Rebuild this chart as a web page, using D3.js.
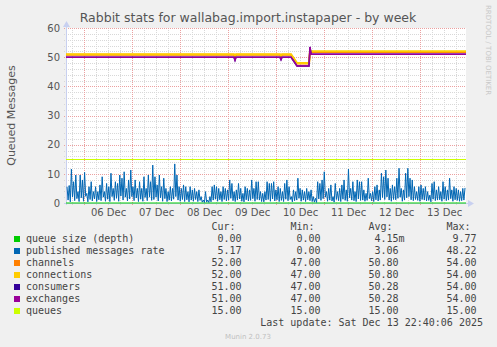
<!DOCTYPE html>
<html>
<head>
<meta charset="utf-8">
<script src="https://cdn.jsdelivr.net/npm/d3@7"></script>
<style>
  body { margin: 0; background: #f0f0f0; }
  svg { display: block; }
</style>
</head>
<body>
<script>
// ---- data ----
const startTime = "2025-12-05 15:00";
const endTime = "2025-12-13 23:00";
const yTicks = [0, 10, 20, 30, 40, 50, 60];
const dayLabels = ["2025-12-06 12:00", "2025-12-07 12:00", "2025-12-08 12:00", "2025-12-09 12:00",
                   "2025-12-10 12:00", "2025-12-11 12:00", "2025-12-12 12:00", "2025-12-13 12:00"];

// published messages rate, evenly sampled from 05 Dec 15:30 to 13 Dec 22:30
const published = [
  5.6,1.0, 6.0,0.4, 11.6,2.1, 7.3,0.8, 9.6,1.5, 3.9,0.5, 9.6,1.8, 7.9,0.6, 10.5,2.3, 3.3,0.4,
  5.6,1.2, 7.3,0.7, 3.9,1.4, 5.6,0.5, 3.9,1.1, 6.2,0.8, 9.0,2.0, 3.9,0.6, 6.7,1.3, 5.6,0.5,
  10.2,2.2, 5.0,0.9, 7.3,1.6, 6.7,0.6, 9.6,2.4, 8.5,1.0, 10.7,2.0, 5.0,0.7, 7.9,1.4, 11.3,2.2,
  5.6,0.8, 7.9,1.7, 5.0,0.5, 7.3,1.3, 5.0,0.6, 9.0,1.9, 5.0,0.8, 9.6,2.0, 7.3,0.9,
  13.0,1.2, 9.0,2.0, 6.2,0.7, 9.6,1.8, 5.6,0.6, 8.5,1.5, 5.0,0.5, 3.9,1.0, 5.6,0.7, 5.0,1.3,
  13.4,2.2, 9.6,1.0, 5.6,0.6, 5.0,1.2, 6.2,0.5, 5.6,1.1, 3.9,0.4, 5.6,1.0, 4.5,0.6, 5.0,1.2,
  3.9,0.5, 4.5,0.9, 2.2,0.3, 1.0,0.2, 3.9,0.3, 1.0,0.2, 2.2,0.4, 5.6,1.0, 6.2,1.3, 5.6,0.6,
  5.0,1.1, 3.9,0.5, 5.6,1.2, 5.0,0.7, 4.5,1.0, 7.9,1.6, 6.7,0.8, 3.9,0.5, 4.5,1.0, 6.7,1.4,
  5.0,0.6, 3.3,0.4, 5.6,1.1, 5.0,0.7, 4.5,0.9, 7.9,1.5, 5.0,0.6, 7.3,1.2,
  7.3,1.0, 3.9,0.5, 3.3,0.4, 3.9,1.0, 7.3,1.2, 6.7,0.6, 6.7,1.4, 7.3,0.7, 4.5,1.1, 5.6,0.5,
  5.0,0.9, 3.9,0.5, 6.7,1.3, 7.9,0.8, 5.6,1.2, 2.2,0.4, 4.5,0.8, 3.9,1.0, 8.5,1.6, 5.0,0.6,
  4.5,1.0, 3.9,0.5, 5.0,1.1, 3.9,0.8, 4.5,0.5, 2.2,0.3, 1.6,0.2, 7.3,1.4, 6.7,0.9, 7.9,1.5,
  10.7,2.0, 3.9,0.6, 5.0,1.0, 6.2,0.7, 2.2,0.3, 6.7,1.2, 3.9,0.8, 5.0,0.5, 6.2,1.3, 7.9,0.9,
  4.5,0.6, 11.6,1.8, 5.0,1.0, 7.3,0.8, 3.9,0.5, 7.9,1.4, 7.3,0.9,
  7.3,1.0, 4.5,0.6, 3.3,0.9, 8.5,1.5, 3.3,0.8, 3.9,0.5, 5.6,1.1, 6.2,0.7, 4.5,1.0, 10.2,1.9,
  9.0,1.2, 11.3,2.1, 8.5,1.0, 5.0,0.6, 6.2,1.2, 5.6,1.1, 8.5,1.6, 11.9,2.0, 5.0,0.6, 4.5,1.0,
  10.2,1.8, 11.9,2.2, 8.5,1.1, 7.9,0.8, 5.6,1.2, 3.9,0.9, 5.6,0.6, 6.2,1.2, 5.0,1.0, 5.6,0.7,
  3.9,0.9, 2.7,0.4, 6.7,1.3, 7.3,0.8, 4.5,1.0, 5.6,1.1, 3.9,0.6, 7.3,1.3, 5.6,0.8, 4.5,1.0,
  8.5,1.5, 4.5,0.6, 5.6,1.1, 5.0,0.9, 4.5,0.6, 3.9,0.8, 5.0,1.0, 5.17
];

// channels / connections (identical), time + value
const channels = [
  ["2025-12-05 15:00", 51], ["2025-12-09 03:00", 51], ["2025-12-09 03:30", 50.5], ["2025-12-09 04:00", 51],
  ["2025-12-10 02:00", 51], ["2025-12-10 02:30", 50.5], ["2025-12-10 03:00", 51], ["2025-12-10 07:30", 51],
  ["2025-12-10 09:00", 49.5], ["2025-12-10 10:30", 48], ["2025-12-10 16:30", 48], ["2025-12-10 17:00", 52],
  ["2025-12-13 23:00", 52]
];
const connections = channels;

// consumers / exchanges (identical)
const consumers = [
  ["2025-12-05 15:00", 50], ["2025-12-09 03:00", 50], ["2025-12-09 03:30", 49], ["2025-12-09 04:00", 50],
  ["2025-12-10 02:00", 50], ["2025-12-10 02:30", 49.2], ["2025-12-10 03:00", 50], ["2025-12-10 07:30", 50],
  ["2025-12-10 09:00", 48.5], ["2025-12-10 10:30", 47], ["2025-12-10 16:30", 47], ["2025-12-10 17:00", 53.5],
  ["2025-12-10 17:30", 51], ["2025-12-13 23:00", 51]
];
const exchanges = consumers;

const queueSize = [["2025-12-05 15:00", 0], ["2025-12-13 23:00", 0]];
const queues = [["2025-12-05 15:00", 15], ["2025-12-13 23:00", 15]];

// legend
const legendNames = ["queue size (depth)", "published messages rate", "channels", "connections",
                     "consumers", "exchanges", "queues"];
const legendColors = ["#00cc00", "#0066b3", "#ff8000", "#ffcc00", "#330099", "#990099", "#ccff00"];
const curVals = ["0.00", "5.17", "52.00", "52.00", "51.00", "51.00", "15.00"];
const minVals = ["0.00", "0.00", "47.00", "47.00", "47.00", "47.00", "15.00"];
const avgVals = ["4.15m", "3.06", "50.80", "50.80", "50.28", "50.28", "15.00"];
const maxVals = ["9.77", "48.22", "54.00", "54.00", "54.00", "54.00", "15.00"];

// ---- chart ----
const parse = d3.timeParse("%Y-%m-%d %H:%M");
const W = 497, H = 347;
const plot = { left: 66, right: 466, top: 28, bottom: 203 };

const svg = d3.select("body").append("svg")
    .attr("width", W)
    .attr("height", H);

svg.append("rect").attr("width", W).attr("height", H).attr("fill", "#f0f0f0");

const x = d3.scaleTime()
    .domain([parse(startTime), parse(endTime)])
    .range([plot.left, plot.right]);

const y = d3.scaleLinear()
    .domain([0, 60])
    .range([plot.bottom, plot.top]);

// plot background
svg.append("rect")
    .attr("x", plot.left).attr("y", plot.top)
    .attr("width", plot.right - plot.left).attr("height", plot.bottom - plot.top)
    .attr("fill", "#ffffff");

// minor grid
const grid = svg.append("g").attr("shape-rendering", "crispEdges");
grid.selectAll(".hmin")
    .data(d3.range(2, 60, 2).filter(v => v % 10 !== 0))
    .join("line")
    .attr("x1", plot.left - 2).attr("x2", plot.right)
    .attr("y1", d => Math.round(y(d)) + 0.5).attr("y2", d => Math.round(y(d)) + 0.5)
    .attr("stroke", "#d8d8d8").attr("stroke-dasharray", "1,1");
grid.selectAll(".vmin")
    .data(d3.timeHour.every(6).range(x.domain()[0], x.domain()[1]).filter(d => d.getHours() !== 0))
    .join("line")
    .attr("x1", d => Math.round(x(d)) + 0.5).attr("x2", d => Math.round(x(d)) + 0.5)
    .attr("y1", plot.top).attr("y2", plot.bottom + 2)
    .attr("stroke", "#d8d8d8").attr("stroke-dasharray", "1,1");

// major grid
grid.selectAll(".hmaj")
    .data(yTicks.filter(v => v > 0))
    .join("line")
    .attr("x1", plot.left - 2).attr("x2", plot.right)
    .attr("y1", d => Math.round(y(d)) + 0.5).attr("y2", d => Math.round(y(d)) + 0.5)
    .attr("stroke", "#eba0a0").attr("stroke-dasharray", "1,1");
grid.selectAll(".vmaj")
    .data(d3.timeDay.range(x.domain()[0], x.domain()[1]))
    .join("line")
    .attr("x1", d => Math.round(x(d)) + 0.5).attr("x2", d => Math.round(x(d)) + 0.5)
    .attr("y1", plot.top).attr("y2", plot.bottom + 2)
    .attr("stroke", "#eba0a0").attr("stroke-dasharray", "1,1");

// axes lines with arrows
const axisColor = "#c8d0f0";
svg.append("line")
    .attr("x1", plot.left + 0.5).attr("x2", plot.left + 0.5)
    .attr("y1", plot.bottom + 2).attr("y2", plot.top - 5)
    .attr("stroke", axisColor);
svg.append("path")
    .attr("d", `M${plot.left - 3},${plot.top - 1}L${plot.left + 0.5},${plot.top - 7}L${plot.left + 4},${plot.top - 1}Z`)
    .attr("fill", axisColor);
svg.append("line")
    .attr("x1", plot.left - 2).attr("x2", plot.right + 5)
    .attr("y1", plot.bottom + 0.5).attr("y2", plot.bottom + 0.5)
    .attr("stroke", axisColor);
svg.append("path")
    .attr("d", `M${plot.right + 2},${plot.bottom - 3}L${plot.right + 8},${plot.bottom + 0.5}L${plot.right + 2},${plot.bottom + 4}Z`)
    .attr("fill", axisColor);

// tick labels
const yAxis = svg.append("g")
    .attr("transform", `translate(${plot.left},0)`)
    .call(d3.axisLeft(y).tickValues(yTicks).tickSize(0).tickPadding(6));
yAxis.select(".domain").remove();
yAxis.selectAll("text")
    .attr("font-family", "DejaVu Sans").attr("font-size", 10).attr("fill", "#555");

const xAxis = svg.append("g")
    .attr("transform", `translate(0,${plot.bottom})`)
    .call(d3.axisBottom(x).tickValues(dayLabels.map(parse)).tickFormat(d3.timeFormat("%d %b"))
        .tickSize(0).tickPadding(6));
xAxis.select(".domain").remove();
xAxis.selectAll("text")
    .attr("font-family", "DejaVu Sans").attr("font-size", 10).attr("fill", "#555");

// series
const t0 = parse("2025-12-05 15:30"), t1 = parse("2025-12-13 22:30");
const pubTimes = published.map((v, i) => new Date(+t0 + (t1 - t0) * i / (published.length - 1)));

const line = d3.line()
    .x(d => x(d[0]))
    .y(d => y(d[1]));

const stepData = arr => arr.map(d => [parse(d[0]), d[1]]);

svg.append("path")
    .datum(stepData(queueSize))
    .attr("fill", "none").attr("stroke", "#00cc00").attr("stroke-width", 1.2)
    .attr("d", line);

svg.append("path")
    .datum(published.map((v, i) => [pubTimes[i], v]))
    .attr("fill", "none").attr("stroke", "#0066b3").attr("stroke-width", 1)
    .attr("d", line);

svg.append("path")
    .datum(stepData(channels))
    .attr("fill", "none").attr("stroke", "#ff8000").attr("stroke-width", 2)
    .attr("transform", "translate(0,0.6)")
    .attr("d", line);
svg.append("path")
    .datum(stepData(connections))
    .attr("fill", "none").attr("stroke", "#ffcc00").attr("stroke-width", 2)
    .attr("d", line);

svg.append("path")
    .datum(stepData(consumers))
    .attr("fill", "none").attr("stroke", "#330099").attr("stroke-width", 1.5)
    .attr("d", line);
svg.append("path")
    .datum(stepData(exchanges))
    .attr("fill", "none").attr("stroke", "#990099").attr("stroke-width", 1.5)
    .attr("d", line);

svg.append("path")
    .datum(stepData(queues))
    .attr("fill", "none").attr("stroke", "#ccff00").attr("stroke-width", 1)
    .attr("shape-rendering", "crispEdges")
    .attr("d", line);

// title and side texts
svg.append("text")
    .attr("x", 248).attr("y", 22)
    .attr("text-anchor", "middle")
    .attr("font-family", "DejaVu Sans").attr("font-size", 12.5).attr("fill", "#555")
    .text("Rabbit stats for wallabag.import.instapaper - by week");

svg.append("text")
    .attr("transform", `translate(15,${(plot.top + plot.bottom) / 2}) rotate(-90)`)
    .attr("text-anchor", "middle")
    .attr("font-family", "DejaVu Sans").attr("font-size", 11).attr("fill", "#555")
    .text("Queued Messages");

svg.append("text")
    .attr("transform", "translate(486,5) rotate(90)")
    .attr("font-family", "DejaVu Sans").attr("font-size", 7).attr("fill", "#c8c8c8")
    .text("RRDTOOL / TOBI OETIKER");

// legend
const mono = "DejaVu Sans Mono";
const legend = svg.append("g").attr("font-family", mono).attr("font-size", 10).attr("fill", "#444");
const headers = [["Cur:", 235.5], ["Min:", 314.5], ["Avg:", 392.5], ["Max:", 470.5]];
legend.selectAll(".hdr")
    .data(headers)
    .join("text")
    .attr("x", d => d[1]).attr("y", 230)
    .attr("text-anchor", "end")
    .text(d => d[0]);

const rowY = i => 242 + i * 12;
legend.selectAll(".sw")
    .data(legendColors)
    .join("rect")
    .attr("x", 14).attr("y", (d, i) => rowY(i) - 6)
    .attr("width", 6).attr("height", 6)
    .attr("fill", d => d);
legend.selectAll(".nm")
    .data(legendNames)
    .join("text")
    .attr("x", 26).attr("y", (d, i) => rowY(i))
    .attr("xml:space", "preserve")
    .text(d => d);

const columns = [[curVals, 241.5], [minVals, 320.5], [avgVals, 398.5], [maxVals, 476.5]];
columns.forEach(([vals, xEnd]) => {
    legend.selectAll(null)
        .data(vals)
        .join("text")
        .attr("x", d => d.endsWith("m") ? xEnd + 6 : xEnd)
        .attr("y", (d, i) => rowY(i))
        .attr("text-anchor", "end")
        .text(d => d);
});

legend.append("text")
    .attr("x", 483).attr("y", 326)
    .attr("text-anchor", "end")
    .text("Last update: Sat Dec 13 22:40:06 2025");

svg.append("text")
    .attr("x", 248).attr("y", 339)
    .attr("text-anchor", "middle")
    .attr("font-family", "DejaVu Sans").attr("font-size", 7).attr("fill", "#c0c0c0")
    .text("Munin 2.0.73");
</script>
</body>
</html>
